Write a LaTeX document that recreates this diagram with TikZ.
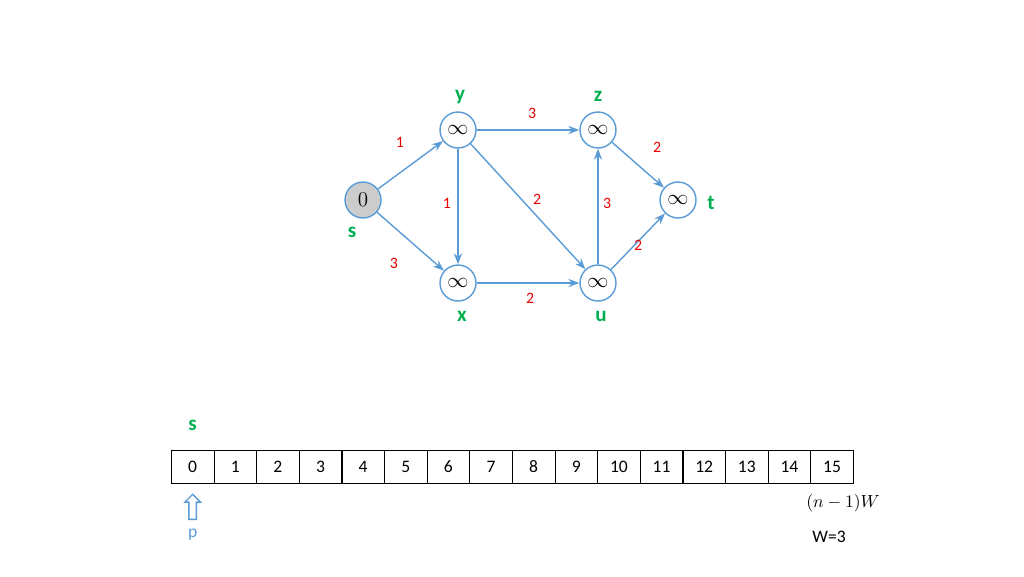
\documentclass[tikz,border=0pt]{standalone}
\usepackage{fontspec}
\setmainfont{Carlito}
\usetikzlibrary{shapes.arrows, arrows.meta, positioning}
\definecolor{gblue}{RGB}{91,155,213}
\definecolor{ggreen}{RGB}{0,176,80}
\definecolor{gred}{RGB}{230,0,0}

\begin{document}
\begin{tikzpicture}[x=0.02cm, y=-0.02cm,
      vert/.style={circle, draw=gblue, thick, fill=white, minimum size=0.72cm, inner sep=0pt, font=\large},
      edge/.style={-{Stealth[length=2.2mm]}, gblue, thick},
      wlabel/.style={text=gred, font=\small},
      vlabel/.style={text=ggreen, font=\large\bfseries},
      cell/.style={draw, minimum width=0.852cm, minimum height=0.66cm, inner sep=0pt, anchor=west}
    ]
      \useasboundingbox (0,0) rectangle (1024,576);

      % Vertices
      \node[vert, fill=black!20] (s) at (363,200) {$0$};
      \node[vert] (y) at (458,130) {$\infty$};
      \node[vert] (z) at (598,130) {$\infty$};
      \node[vert] (t) at (678,200) {$\infty$};
      \node[vert] (x) at (458,283) {$\infty$};
      \node[vert] (u) at (598,283) {$\infty$};

      % Vertex labels
      \node[vlabel] at (460,97) {y};
      \node[vlabel] at (598,96) {z};
      \node[vlabel] at (711,203) {t};
      \node[vlabel] at (352,232) {s};
      \node[vlabel] at (462,316) {x};
      \node[vlabel] at (601,316) {u};

      % Edges
      \draw[edge] (s) -- (y);
      \draw[edge] (s) -- (x);
      \draw[edge] (y) -- (z);
      \draw[edge] (y) -- (x);
      \draw[edge] (y) -- (u);
      \draw[edge] (x) -- (u);
      \draw[edge] (u) -- (z);
      \draw[edge] (z) -- (t);
      \draw[edge] (u) -- (t);

      % Weights
      \node[wlabel] at (400,142) {1};
      \node[wlabel] at (394,263) {3};
      \node[wlabel] at (532,113) {3};
      \node[wlabel] at (447,203) {1};
      \node[wlabel] at (537,199) {2};
      \node[wlabel] at (530,298) {2};
      \node[wlabel] at (607,203) {3};
      \node[wlabel] at (657,147) {2};
      \node[wlabel] at (638,245) {2};

      % Array
      \foreach \i in {0,...,15} {
        \node[cell] (c\i) at ({171+42.625*\i},466.5) {\i};
      }
      \node[vlabel, above=0.25cm of c0] (sa) {s};
      \node[single arrow, draw=gblue, thick, rotate=90, minimum height=0.5cm,
        single arrow head extend=0.08cm, inner sep=0.06cm, below=0.2cm of c0, anchor=east] (ptr) {};
      \node[text=gblue, below=0.05cm of ptr.west] (p) {p};
      \node (nw) at (843,503) {$(n-1)W$};
      \node (w) at (829,537) {W=3};
    \end{tikzpicture}
\end{document}
